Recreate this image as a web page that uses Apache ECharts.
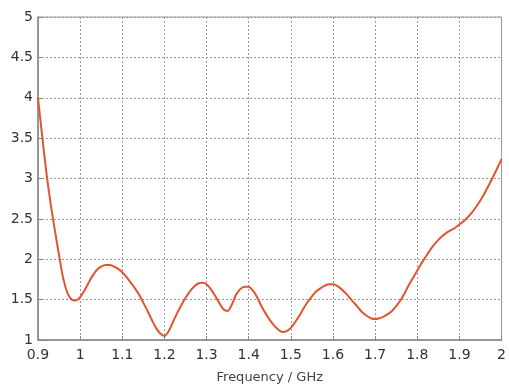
<!DOCTYPE html>
<html>
<head>
<meta charset="utf-8">
<script src="https://cdn.jsdelivr.net/npm/echarts@6/dist/echarts.min.js"></script>
<style>
html,body{margin:0;padding:0;background:#fff;}
#c{width:509px;height:389px;}
</style>
</head>
<body>
<div id="c"></div>
<script>
const freq = [
  0.90, 0.91, 0.92, 0.93, 0.94, 0.95, 0.96, 0.97, 0.98, 0.99,
  1.00, 1.01, 1.02, 1.03, 1.04, 1.05, 1.06, 1.07, 1.08, 1.09,
  1.10, 1.11, 1.12, 1.13, 1.14, 1.15, 1.16, 1.17, 1.18, 1.19,
  1.20, 1.21, 1.22, 1.23, 1.24, 1.25, 1.26, 1.27, 1.28, 1.29,
  1.30, 1.31, 1.32, 1.33, 1.34, 1.35, 1.36, 1.37, 1.38, 1.39,
  1.40, 1.41, 1.42, 1.43, 1.44, 1.45, 1.46, 1.47, 1.48, 1.49,
  1.50, 1.51, 1.52, 1.53, 1.54, 1.55, 1.56, 1.57, 1.58, 1.59,
  1.60, 1.61, 1.62, 1.63, 1.64, 1.65, 1.66, 1.67, 1.68, 1.69,
  1.70, 1.71, 1.72, 1.73, 1.74, 1.75, 1.76, 1.77, 1.78, 1.79,
  1.80, 1.81, 1.82, 1.83, 1.84, 1.85, 1.86, 1.87, 1.88, 1.89,
  1.90, 1.91, 1.92, 1.93, 1.94, 1.95, 1.96, 1.97, 1.98, 1.99, 2.00];
const vswr = [
  4.00, 3.52, 3.07, 2.69, 2.36, 2.05, 1.76, 1.58, 1.50, 1.49,
  1.53, 1.61, 1.71, 1.80, 1.87, 1.91, 1.93, 1.93, 1.91, 1.88,
  1.84, 1.78, 1.71, 1.64, 1.56, 1.46, 1.36, 1.25, 1.15, 1.08,
  1.05, 1.11, 1.22, 1.33, 1.43, 1.52, 1.60, 1.66, 1.70, 1.71,
  1.69, 1.63, 1.55, 1.46, 1.38, 1.36, 1.44, 1.56, 1.63, 1.66,
  1.66, 1.61, 1.53, 1.42, 1.33, 1.25, 1.18, 1.13, 1.10, 1.11,
  1.15, 1.22, 1.30, 1.39, 1.47, 1.54, 1.60, 1.64, 1.67, 1.69,
  1.69, 1.67, 1.63, 1.58, 1.52, 1.46, 1.40, 1.34, 1.30, 1.27,
  1.26, 1.27, 1.29, 1.32, 1.36, 1.42, 1.49, 1.58, 1.68, 1.77,
  1.86, 1.95, 2.03, 2.11, 2.18, 2.24, 2.29, 2.33, 2.36, 2.39,
  2.43, 2.47, 2.52, 2.58, 2.65, 2.73, 2.82, 2.92, 3.02, 3.13, 3.24];
const xTitle = 'Frequency / GHz';

const chart = echarts.init(document.getElementById('c'), null, {renderer: 'canvas'});
const fmt = v => String(Math.round(v * 10) / 10);
chart.setOption({
  animation: false,
  grid: {left: 38, right: 5, top: 17, bottom: 47, show: true, borderColor: '#999', borderWidth: 1},
  xAxis: {
    type: 'value', min: 0.9, max: 2, interval: 0.1,
    name: xTitle, nameLocation: 'middle', nameGap: 31,
    nameTextStyle: {fontFamily: 'DejaVu Sans', fontSize: 13, color: '#444'},
    axisLine: {show: true, lineStyle: {color: '#888', width: 1.5}},
    axisTick: {show: true, inside: true, length: 4, lineStyle: {color: '#888'}},
    axisLabel: {formatter: fmt, fontFamily: 'DejaVu Sans', fontSize: 14, color: '#333', margin: 8},
    splitLine: {show: true, lineStyle: {type: [2, 2], color: '#999', width: 1}}
  },
  yAxis: {
    type: 'value', min: 1, max: 5, interval: 0.5,
    axisLine: {show: true, lineStyle: {color: '#888', width: 1.5}},
    axisTick: {show: true, inside: true, length: 4, lineStyle: {color: '#888'}},
    axisLabel: {formatter: fmt, fontFamily: 'DejaVu Sans', fontSize: 14, color: '#333', margin: 5},
    splitLine: {show: true, lineStyle: {type: [2, 2], color: '#999', width: 1}}
  },
  series: [{
    type: 'line',
    data: freq.map((f, i) => [f, vswr[i]]),
    smooth: 0.3,
    showSymbol: false,
    lineStyle: {color: '#e0552e', width: 2}
  }]
});
</script>
</body>
</html>
